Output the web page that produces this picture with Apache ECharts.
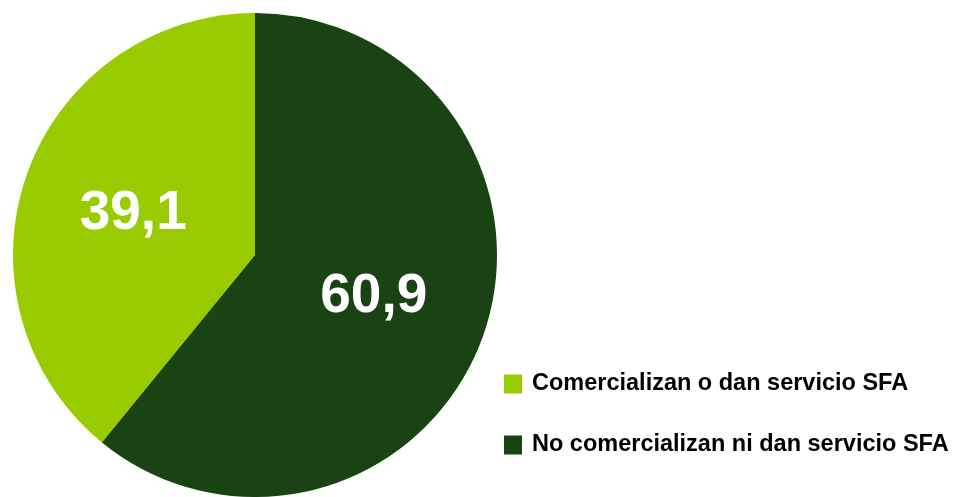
<!DOCTYPE html>
<html><head><meta charset="utf-8">
<script src="https://cdn.jsdelivr.net/npm/echarts@6/dist/echarts.min.js"></script>
<style>html,body{margin:0;padding:0;background:#fff}#c{width:960px;height:497px}</style>
</head><body><div id="c"></div>
<script>
var categories = ['Comercializan o dan servicio SFA', 'No comercializan ni dan servicio SFA'];
var values = [39.1, 60.9];
var colors = ['#99CC00', '#1A4314'];

var chart = echarts.init(document.getElementById('c'), null, {renderer: 'canvas'});
var labelPads = [[10, 10, 0, 0], [10, 0, 0, 4]];
chart.setOption({
  animation: false,
  color: colors,
  legend: {
    orient: 'vertical',
    left: 499, top: 367,
    itemWidth: 18, itemHeight: 19,
    itemGap: 37,
    icon: 'rect',
    data: categories,
    textStyle: {fontFamily: 'Liberation Sans', fontWeight: 'bold', fontSize: 23.5, color: '#000', padding: [0,0,0,5], lineHeight: 20}
  },
  series: [{
    type: 'pie',
    center: [255, 255],
    radius: [0, 242],
    startAngle: 90,
    clockwise: false,
    labelLine: {show: false},
    label: {
      show: true, position: 'inside',
      color: '#fff', fontFamily: 'Liberation Sans', fontWeight: 'bold', fontSize: 55,
      formatter: function(p){ return String(p.value).replace('.', ','); }
    },
    emphasis: {disabled: true},
    itemStyle: {borderWidth: 0},
    data: categories.map(function(n, i){ return {name: n, value: values[i], label: {padding: labelPads[i]}}; })
  }]
});
</script></body></html>
